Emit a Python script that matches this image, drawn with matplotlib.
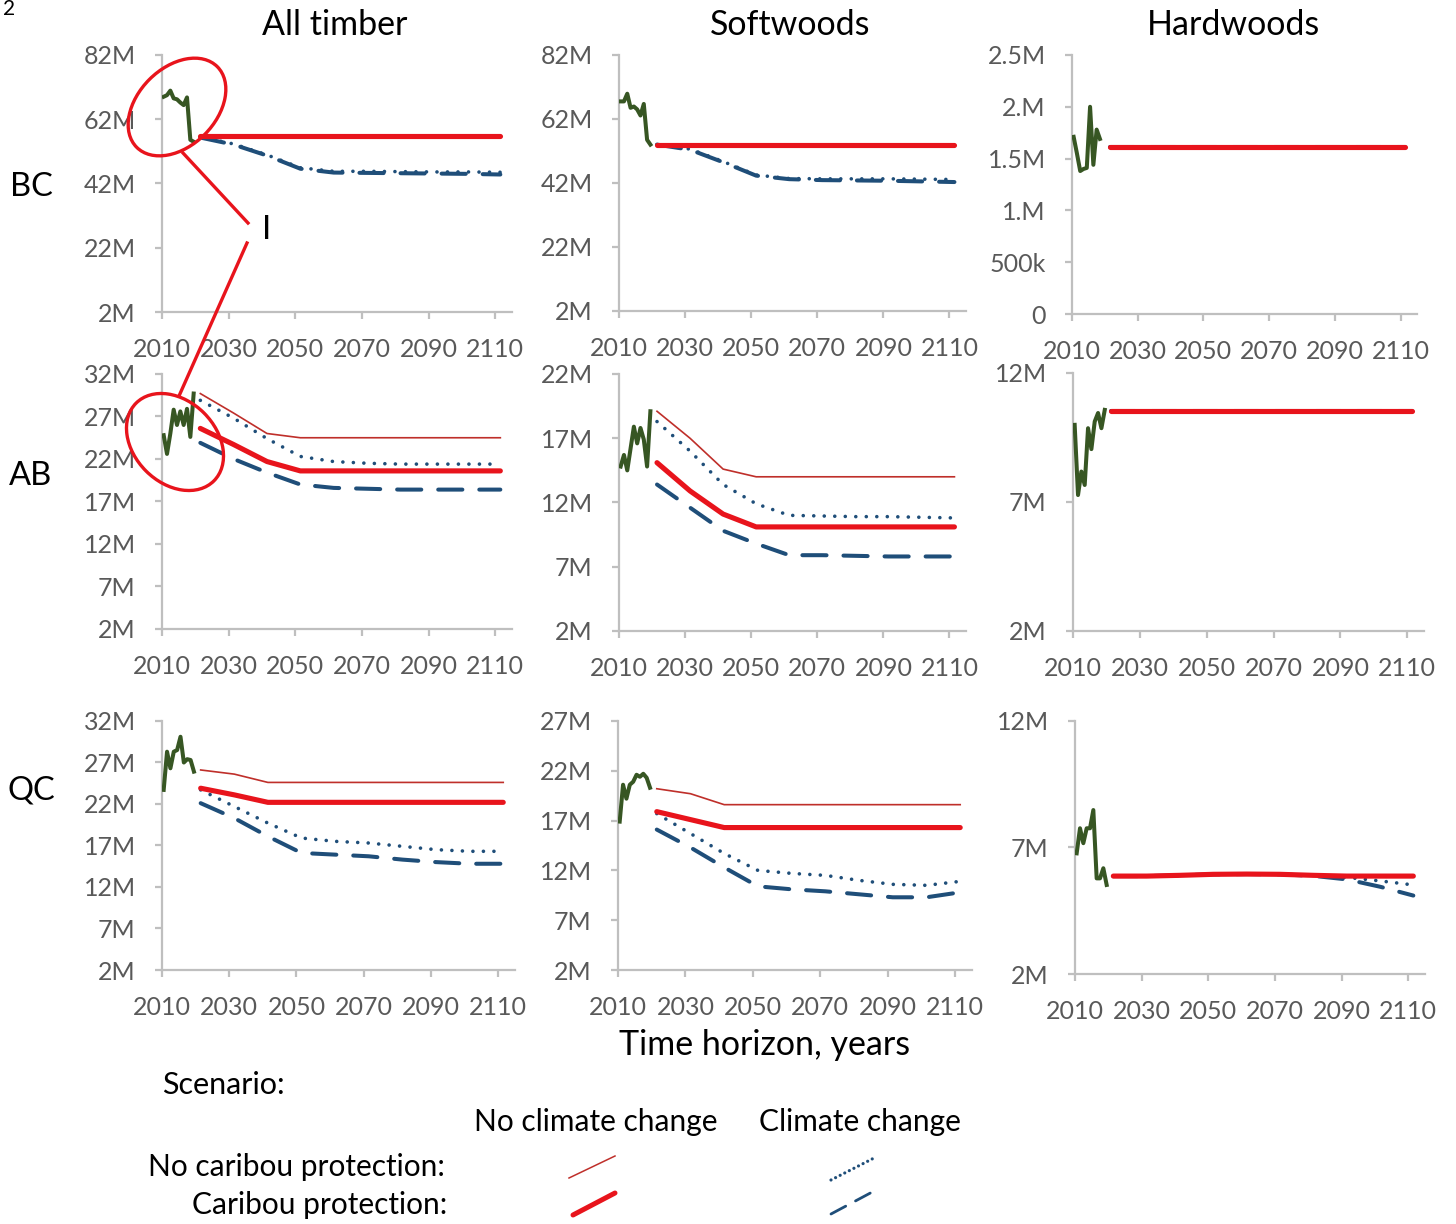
import matplotlib
matplotlib.use('Agg')
import matplotlib.pyplot as plt
import numpy as np
from matplotlib.patches import Ellipse

plt.rcParams['font.family'] = ['Lato', 'DejaVu Sans']

nan = np.nan

# Years: observed harvest 2010-2019, model periods every 10 years from 2021
hist_years = list(range(2010, 2020))
proj_years = list(range(2021, 2112, 10))

# Volumes in millions of m3 (hardwoods BC as well)
# --- BC ---
bc_all_hist = [69.0, 69.5, 70.9, 68.5, 68.2, 67.2, 66.4, 68.8, 55.6, 55.0]
bc_all_base = [56.8, 56.8, 56.8, 56.8, 56.8, 56.8, 56.8, 56.8, 56.8, 56.8]
bc_all_caribou = [56.8, 56.8, 56.8, 56.8, 56.8, 56.8, 56.8, 56.8, 56.8, 56.8]
bc_all_climate = [56.5, 54.3, 50.9, 46.9, 45.8, 45.8, 45.7, 45.6, 45.6, 45.5]
bc_all_both = [56.3, 54.1, 50.7, 46.6, 45.4, 45.3, 45.2, 45.1, 45.0, 44.8]

bc_soft_hist = [67.5, 67.5, 69.9, 65.5, 65.9, 65.0, 63.1, 66.7, 55.5, 54.0]
bc_soft_base = [54.0, 54.0, 54.0, 54.0, 54.0, 54.0, 54.0, 54.0, 54.0, 54.0]
bc_soft_caribou = [54.0, 54.0, 54.0, 54.0, 54.0, 54.0, 54.0, 54.0, 54.0, 54.0]
bc_soft_climate = [54.0, 52.6, 48.7, 44.5, 43.4, 43.3, 43.3, 43.3, 43.2, 43.1]
bc_soft_both = [54.0, 52.4, 48.5, 44.3, 43.2, 42.9, 42.8, 42.7, 42.5, 42.3]

bc_hard_hist = [1.71, 1.55, 1.38, 1.40, 1.41, 2.00, 1.44, 1.78, 1.69, nan]
bc_hard_base = [1.61, 1.61, 1.61, 1.61, 1.61, 1.61, 1.61, 1.61, 1.61, 1.61]
bc_hard_caribou = [1.61, 1.61, 1.61, 1.61, 1.61, 1.61, 1.61, 1.61, 1.61, 1.61]
bc_hard_climate = [1.61, 1.61, 1.61, 1.61, 1.61, 1.61, 1.61, 1.61, 1.61, 1.61]
bc_hard_both = [1.61, 1.61, 1.61, 1.61, 1.61, 1.61, 1.61, 1.61, 1.61, 1.61]

# --- AB ---
ab_all_hist = [24.8, 22.6, 25.0, 27.8, 26.0, 27.6, 26.0, 27.9, 24.6, 29.7]
ab_all_base = [29.7, 27.4, 25.0, 24.5, 24.5, 24.5, 24.5, 24.5, 24.5, 24.5]
ab_all_caribou = [25.6, 23.7, 21.7, 20.6, 20.6, 20.6, 20.6, 20.6, 20.6, 20.6]
ab_all_climate = [28.9, 26.8, 24.4, 22.3, 21.7, 21.5, 21.4, 21.4, 21.4, 21.4]
ab_all_both = [23.9, 22.0, 20.4, 19.0, 18.6, 18.5, 18.4, 18.4, 18.4, 18.4]

ab_soft_hist = [14.8, 15.7, 14.5, 16.2, 17.9, 16.6, 17.8, 16.9, 14.8, 19.1]
ab_soft_base = [19.1, 17.0, 14.6, 14.0, 14.0, 14.0, 14.0, 14.0, 14.0, 14.0]
ab_soft_caribou = [15.1, 12.9, 11.1, 10.1, 10.1, 10.1, 10.1, 10.1, 10.1, 10.1]
ab_soft_climate = [18.3, 16.0, 13.4, 11.9, 11.0, 10.95, 10.9, 10.9, 10.85, 10.8]
ab_soft_both = [13.4, 11.6, 9.8, 8.8, 7.9, 7.9, 7.85, 7.8, 7.8, 7.8]

ab_hard_hist = [9.99, 7.27, 8.18, 7.66, 9.86, 9.05, 10.12, 10.45, 9.86, 10.57]
ab_hard_base = [10.54, 10.54, 10.54, 10.54, 10.54, 10.54, 10.54, 10.54, 10.54, 10.54]
ab_hard_caribou = [10.54, 10.54, 10.54, 10.54, 10.54, 10.54, 10.54, 10.54, 10.54, 10.54]
ab_hard_climate = [10.54, 10.54, 10.54, 10.54, 10.54, 10.54, 10.54, 10.54, 10.54, 10.54]
ab_hard_both = [10.54, 10.54, 10.54, 10.54, 10.54, 10.54, 10.54, 10.54, 10.54, 10.54]

# --- QC ---
qc_all_hist = [23.7, 28.3, 26.3, 28.3, 28.5, 30.1, 27.0, 27.4, 27.3, 25.9]
qc_all_base = [26.1, 25.6, 24.6, 24.6, 24.6, 24.6, 24.6, 24.6, 24.6, 24.6]
qc_all_caribou = [23.9, 23.1, 22.2, 22.2, 22.2, 22.2, 22.2, 22.2, 22.2, 22.2]
qc_all_climate = [23.7, 21.7, 19.7, 17.9, 17.5, 17.3, 16.9, 16.5, 16.3, 16.3]
qc_all_both = [22.1, 20.3, 18.1, 16.1, 15.9, 15.7, 15.3, 15.0, 14.8, 14.8]

qc_soft_hist = [16.9, 20.6, 19.2, 20.6, 20.9, 21.6, 21.4, 21.7, 21.3, 20.3]
qc_soft_base = [20.2, 19.7, 18.6, 18.6, 18.6, 18.6, 18.6, 18.6, 18.6, 18.6]
qc_soft_caribou = [17.9, 17.1, 16.3, 16.3, 16.3, 16.3, 16.3, 16.3, 16.3, 16.3]
qc_soft_climate = [17.7, 15.7, 13.7, 12.0, 11.7, 11.5, 11.0, 10.6, 10.5, 10.9]
qc_soft_both = [16.1, 14.3, 12.3, 10.4, 10.1, 9.9, 9.6, 9.3, 9.3, 9.8]

qc_hard_hist = [6.77, 7.76, 7.17, 7.76, 7.76, 8.48, 5.78, 5.78, 6.18, 5.52]
qc_hard_base = [5.87, 5.87, 5.90, 5.94, 5.95, 5.94, 5.90, 5.87, 5.87, 5.87]
qc_hard_caribou = [5.87, 5.87, 5.90, 5.94, 5.95, 5.94, 5.90, 5.87, 5.87, 5.87]
qc_hard_climate = [5.87, 5.87, 5.90, 5.94, 5.95, 5.94, 5.90, 5.82, 5.68, 5.52]
qc_hard_both = [5.87, 5.87, 5.90, 5.94, 5.95, 5.94, 5.88, 5.74, 5.45, 5.10]

# y-axis ticks (values in millions) and their labels
ticks_82 = [2, 22, 42, 62, 82]
labels_82 = ['2M', '22M', '42M', '62M', '82M']
ticks_bc_hard = [0, 0.5, 1.0, 1.5, 2.0, 2.5]
labels_bc_hard = ['0', '500k', '1.M', '1.5M', '2.M', '2.5M']
ticks_32 = [2, 7, 12, 17, 22, 27, 32]
labels_32 = ['2M', '7M', '12M', '17M', '22M', '27M', '32M']
ticks_22 = [2, 7, 12, 17, 22]
labels_22 = ['2M', '7M', '12M', '17M', '22M']
ticks_27 = [2, 7, 12, 17, 22, 27]
labels_27 = ['2M', '7M', '12M', '17M', '22M', '27M']
ticks_12 = [2, 7, 12]
labels_12 = ['2M', '7M', '12M']

x_ticks = [2010, 2030, 2050, 2070, 2090, 2110]
x_labels = ['2010', '2030', '2050', '2070', '2090', '2110']

col_titles = ['All timber', 'Softwoods', 'Hardwoods']
row_titles = ['BC', 'AB', 'QC']

GREEN = '#375623'
BLUE = '#1F4E79'
RED = '#E8141C'
DARK_RED = '#BF2F2A'
GRID = '#BFBFBF'
TICK_TXT = '#595959'

W, H = 1456, 1224
fig = plt.figure(figsize=(W / 100, H / 100), dpi=100)


def px_axes(left, top, width, height):
    return fig.add_axes([left / W, 1 - (top + height) / H, width / W, height / H])


# (series, y ticks, y labels, box in pixels: left, top, width, height)
panels = [
    ((bc_all_hist, bc_all_base, bc_all_caribou, bc_all_climate, bc_all_both),
     ticks_82, labels_82, (162, 55, 350, 257)),
    ((bc_soft_hist, bc_soft_base, bc_soft_caribou, bc_soft_climate, bc_soft_both),
     ticks_82, labels_82, (619, 55, 347, 256)),
    ((bc_hard_hist, bc_hard_base, bc_hard_caribou, bc_hard_climate, bc_hard_both),
     ticks_bc_hard, labels_bc_hard, (1072, 55, 345, 259)),
    ((ab_all_hist, ab_all_base, ab_all_caribou, ab_all_climate, ab_all_both),
     ticks_32, labels_32, (162, 374, 350, 255)),
    ((ab_soft_hist, ab_soft_base, ab_soft_caribou, ab_soft_climate, ab_soft_both),
     ticks_22, labels_22, (619, 374, 347, 257)),
    ((ab_hard_hist, ab_hard_base, ab_hard_caribou, ab_hard_climate, ab_hard_both),
     ticks_12, labels_12, (1073, 373, 351, 258)),
    ((qc_all_hist, qc_all_base, qc_all_caribou, qc_all_climate, qc_all_both),
     ticks_32, labels_32, (162, 721, 353, 249)),
    ((qc_soft_hist, qc_soft_base, qc_soft_caribou, qc_soft_climate, qc_soft_both),
     ticks_27, labels_27, (618, 721, 354, 249)),
    ((qc_hard_hist, qc_hard_base, qc_hard_caribou, qc_hard_climate, qc_hard_both),
     ticks_12, labels_12, (1075, 721, 350, 253)),
]

# category centres sit half a year right of the tick (Excel "between tick marks")
hx = np.array(hist_years) + 0.5
px = np.array(proj_years) + 0.5

for (series, yt, yl, box) in panels:
    hist, base, caribou, climate, both = series
    ax = px_axes(*box)
    ax.plot(px, climate, color=BLUE, lw=2.6, linestyle=(0, (0.01, 2.9)),
            dash_capstyle='round', zorder=3)
    ax.plot(px, both, color=BLUE, lw=2.9, linestyle=(0, (6.0, 4.2)),
            dash_capstyle='round', zorder=3)
    ax.plot(px, base, color=DARK_RED, lw=1.2, zorder=4)
    ax.plot(px, caribou, color=RED, lw=3.7, solid_capstyle='round', zorder=5)
    ax.plot(hx, hist, color=GREEN, lw=2.9, zorder=5)

    ax.set_xlim(2010, 2115)
    ax.set_ylim(yt[0], yt[-1])
    ax.set_xticks(x_ticks)
    ax.set_xticklabels(x_labels)
    ax.set_yticks(yt)
    ax.set_yticklabels(yl)
    for s in ['top', 'right']:
        ax.spines[s].set_visible(False)
    for s in ['left', 'bottom']:
        ax.spines[s].set_color(GRID)
        ax.spines[s].set_linewidth(1.6)
    ax.tick_params(axis='both', direction='out', length=5, width=1.6, color=GRID,
                   labelcolor=TICK_TXT, labelsize=18, pad=14)
    ax.patch.set_alpha(0)

# Overlay in pixel coordinates for titles, legend and highlight marks
ov = fig.add_axes([0, 0, 1, 1], zorder=20)
ov.set_xlim(0, W)
ov.set_ylim(H, 0)
ov.axis('off')
ov.patch.set_alpha(0)

for x, t in zip([335, 790, 1233], col_titles):
    ov.text(x, 25, t, fontsize=24.5, ha='center', va='center')
for y, t in zip([187, 476, 790], row_titles):
    ov.text(31, y, t, fontsize=23.5, ha='center', va='center')

ov.text(15, 9, '2', fontsize=15, ha='right', va='center')
ov.text(765, 1045, 'Time horizon, years', fontsize=24.5, ha='center', va='center')
ov.text(162, 1085, 'Scenario:', fontsize=22, ha='left', va='center')
ov.text(596, 1122, 'No climate change', fontsize=21.5, ha='center', va='center')
ov.text(860, 1122, 'Climate change', fontsize=21.5, ha='center', va='center')
ov.text(445, 1167, 'No caribou protection:', fontsize=21.5, ha='right', va='center')
ov.text(447, 1205, 'Caribou protection:', fontsize=21.5, ha='right', va='center')

# legend swatches
ov.plot([569, 615], [1178, 1156], color=DARK_RED, lw=1.1)
ov.plot([573, 615], [1215, 1193], color=RED, lw=3.6, solid_capstyle='round')
ov.plot([831, 876], [1180, 1157], color=BLUE, lw=2.3, linestyle=(0, (0.01, 1.6)),
        dash_capstyle='round')
ov.plot([831, 876], [1214, 1190], color=BLUE, lw=2.0, linestyle=(0, (6.0, 4.0)),
        dash_capstyle='round')

# highlight of the recent harvest drop
ov.add_patch(Ellipse((177, 107), 114, 78, angle=-45, fill=False, edgecolor=RED, lw=2.4))
ov.add_patch(Ellipse((175, 442), 110, 82, angle=45, fill=False, edgecolor=RED, lw=2.4))
ov.plot([183, 248], [153, 223], color=RED, lw=2.4)
ov.plot([247, 179], [243, 396], color=RED, lw=2.4)
ov.text(267, 230, 'I', fontsize=24, ha='center', va='center')

fig.savefig('out.png', dpi=100)
